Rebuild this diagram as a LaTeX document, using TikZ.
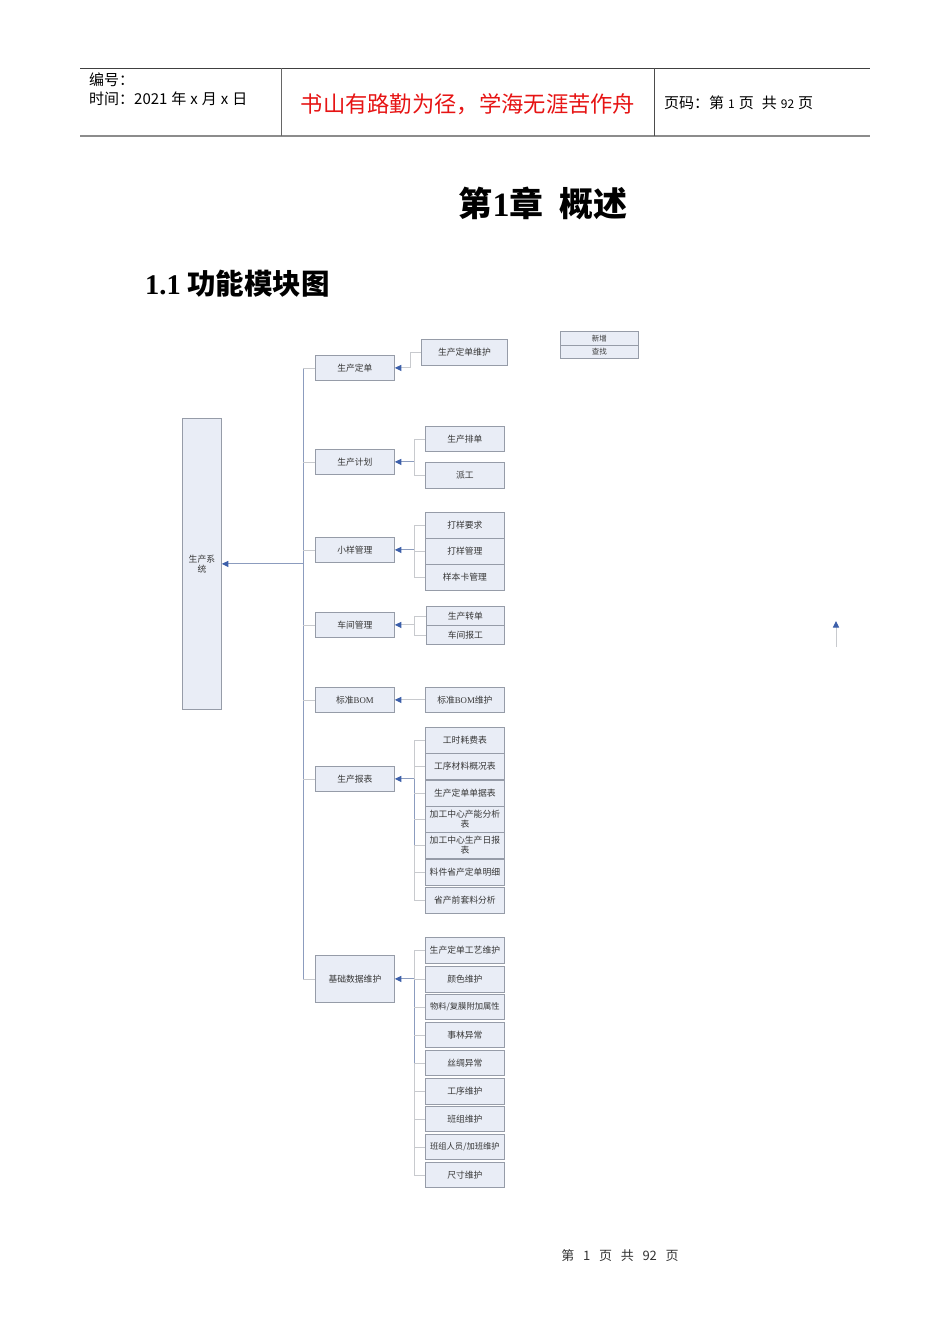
\documentclass[tikz,border=0pt]{standalone}
\usepackage{fontspec}
\newfontfamily\cjk{Noto Sans CJK SC}
\newfontfamily\tms{Liberation Serif}
\usetikzlibrary{arrows.meta}
\definecolor{boxfill}{RGB}{233,237,246}
\definecolor{boxline}{RGB}{150,156,168}
\definecolor{connline}{RGB}{200,202,206}
\definecolor{spineline}{RGB}{140,156,190}
\definecolor{arrblue}{RGB}{60,95,170}
\definecolor{boxtext}{RGB}{55,55,55}
\definecolor{redtext}{RGB}{230,20,20}
\tikzset{
  box/.style={draw=boxline, fill=boxfill, line width=0.8pt, inner sep=0pt, anchor=north west, align=center,
    font=\cjk\fontsize{8.8}{10}\selectfont, text=boxtext},
  conn/.style={draw=connline, line width=0.8pt},
  spine/.style={draw=spineline, line width=1pt},
  arr/.style={draw=spineline, line width=1pt, -{Triangle[length=6.5pt,width=6pt,color=arrblue]}},
  hdr/.style={anchor=west, inner sep=0pt, font=\cjk\fontsize{15}{17}\selectfont},
}
\newcommand{\bx}[6]{\node[box, minimum width=#4pt, minimum height=#5pt] (#1) at (#2,#3) {#6};}
\newcommand{\gap}{\hspace{4pt}}
\begin{document}
\begin{tikzpicture}[x=1pt,y=-1pt]
\useasboundingbox (0,0) rectangle (950,1344);
% header
\coordinate (h1) at (80,68); \coordinate (h2) at (870,68);
\coordinate (h3) at (80,136); \coordinate (h4) at (870,136);
\draw[line width=1pt, black!75] (h1) -- (h2);
\draw[line width=2pt, black!45] (h3) -- (h4);
\coordinate (v1) at (281,68); \coordinate (v1b) at (281,136);
\coordinate (v2) at (654,68); \coordinate (v2b) at (654,136);
\draw[line width=0.8pt, black!60] (v1) -- (v1b);
\draw[line width=0.8pt, black!70] (v2) -- (v2b);
\node[hdr] (bh) at (89,80) {编号：};
\node[hdr] (sj) at (89,99) {时间：2021\gap 年\gap x\gap 月\gap x\gap 日};
\node[anchor=center, inner sep=0pt, font=\cjk\fontsize{22.3}{24}\selectfont, text=redtext] (motto) at (468,104) {书山有路勤为径，学海无涯苦作舟};
\node[hdr] (ym) at (664,103) {页码：第\gap{\fontsize{12}{14}\selectfont 1}\gap 页\gap\gap 共\gap{\fontsize{12}{14}\selectfont 92}\gap 页};
% titles
\node[inner sep=0pt, font=\cjk\bfseries\fontsize{34}{36}\selectfont] (title) at (543,203) {第{\tms\bfseries 1}章\ \ 概述};
\node[anchor=west, inner sep=0pt, font=\cjk\bfseries\fontsize{28.5}{32}\selectfont] (sec) at (145,284) {{\tms\bfseries 1.1} 功能模块图};
% small legend boxes
\node[box, minimum width=78pt, minimum height=14pt, font=\cjk\fontsize{7.5}{8}\selectfont] (xz) at (560,331) {新增};
\node[box, minimum width=78pt, minimum height=13pt, font=\cjk\fontsize{7.5}{8}\selectfont] (cz) at (560,345) {查找};
% root
\bx{root}{182}{418}{39}{291}{生产系\\统}
% level 2
\bx{l1}{315}{355}{79}{25}{生产定单}
\bx{l2}{315}{449}{79}{25}{生产计划}
\bx{l3}{315}{537}{79}{25}{小样管理}
\bx{l4}{315}{612}{79}{25}{车间管理}
\bx{l5}{315}{687}{79}{25}{标准{\tms BOM}}
\bx{l6}{315}{766}{79}{25}{生产报表}
\bx{l7}{315}{955}{79}{47}{基础数据维护}
% level 3
\bx{a1}{421}{339}{86}{26}{生产定单维护}
\bx{b1}{425}{426}{79}{25}{生产排单}
\bx{b2}{425}{462}{79}{26}{派工}
\bx{c1}{425}{512}{79}{26}{打样要求}
\bx{c2}{425}{538}{79}{26}{打样管理}
\bx{c3}{425}{564}{79}{26}{样本卡管理}
\bx{d1}{426}{606}{78}{19}{生产转单}
\bx{d2}{426}{625}{78}{19}{车间报工}
\bx{e1}{425}{687}{79}{25}{标准{\tms BOM}维护}
\bx{f1}{425}{727}{79}{26}{工时耗费表}
\bx{f2}{425}{753}{79}{26}{工序材料概况表}
\bx{f3}{425}{780}{79}{26}{生产定单单据表}
\bx{f4}{425}{806}{79}{26}{加工中心产能分析\\表}
\bx{f5}{425}{832}{79}{26}{加工中心生产日报\\表}
\bx{f6}{425}{859}{79}{26}{料件省产定单明细}
\bx{f7}{425}{887}{79}{26}{省产前套料分析}
\bx{g1}{425}{937}{79}{26}{生产定单工艺维护}
\bx{g2}{425}{966}{79}{26}{颜色维护}
\bx{g3}{425}{994}{79}{25}{{\fontsize{8.3}{10}\selectfont 物料/复膜附加属性}}
\bx{g4}{425}{1022}{79}{25}{事林异常}
\bx{g5}{425}{1050}{79}{25}{丝绸异常}
\bx{g6}{425}{1078}{79}{26}{工序维护}
\bx{g7}{425}{1106}{79}{25}{班组维护}
\bx{g8}{425}{1134}{79}{25}{{\fontsize{8.3}{10}\selectfont 班组人员/加班维护}}
\bx{g9}{425}{1162}{79}{25}{尺寸维护}
% main spine
\coordinate (sp) at (303,0);
\draw[spine] (l1.west -| sp) -- (l7.west -| sp);
\foreach \n in {l1,l2,l3,l4,l5,l6,l7} \draw[conn] (\n.west) -- (\n.west -| sp);
\draw[arr] (root.east -| sp) -- (root.east);
% sub spines
\coordinate (sa) at (410,0);
\coordinate (sb) at (414,0);
\draw[conn] (a1.west) -- (a1.west -| sa) -- (l1.east -| sa);
\draw[arr, draw=connline] (l1.east -| sa) -- (l1.east);
\draw[conn] (b1.west -| sb) -- (b2.west -| sb);
\foreach \n in {b1,b2} \draw[conn] (\n.west) -- (\n.west -| sb);
\draw[arr] (l2.east -| sb) -- (l2.east);
\draw[conn] (c1.west -| sb) -- (c3.west -| sb);
\foreach \n in {c1,c2,c3} \draw[conn] (\n.west) -- (\n.west -| sb);
\draw[arr] (l3.east -| sb) -- (l3.east);
\draw[conn] (d1.west -| sb) -- (d2.west -| sb);
\foreach \n in {d1,d2} \draw[conn] (\n.west) -- (\n.west -| sb);
\draw[arr, draw=connline] (l4.east -| sb) -- (l4.east);
\draw[arr, draw=connline] (e1.west) -- (l5.east);
\draw[conn] (f1.west -| sb) -- (f7.west -| sb);
\draw[spine] (l6.east -| sb) -- (f5.west -| sb);
\foreach \n in {f1,f2,f3,f4,f5,f6,f7} \draw[conn] (\n.west) -- (\n.west -| sb);
\draw[arr] (l6.east -| sb) -- (l6.east);
\draw[conn] (g1.west -| sb) -- (g9.west -| sb);
\draw[spine] (l7.east -| sb) -- (g5.west -| sb);
\foreach \n in {g1,g2,g3,g4,g5,g6,g7,g8,g9} \draw[conn] (\n.west) -- (\n.west -| sb);
\draw[arr] (l7.east -| sb) -- (l7.east);
% stray arrow
\coordinate (ua) at (836,647);
\coordinate (ub) at (836,621);
\draw[arr, draw=connline] (ua) -- (ub);
% footer
\node[inner sep=0pt, font=\cjk\fontsize{13}{15}\selectfont, text=black!80] (ft) at (620,1256) {第\ \ \ 1\ \ \ 页\ \ \ 共\ \ \ 92\ \ \ 页};
\end{tikzpicture}
\end{document}
